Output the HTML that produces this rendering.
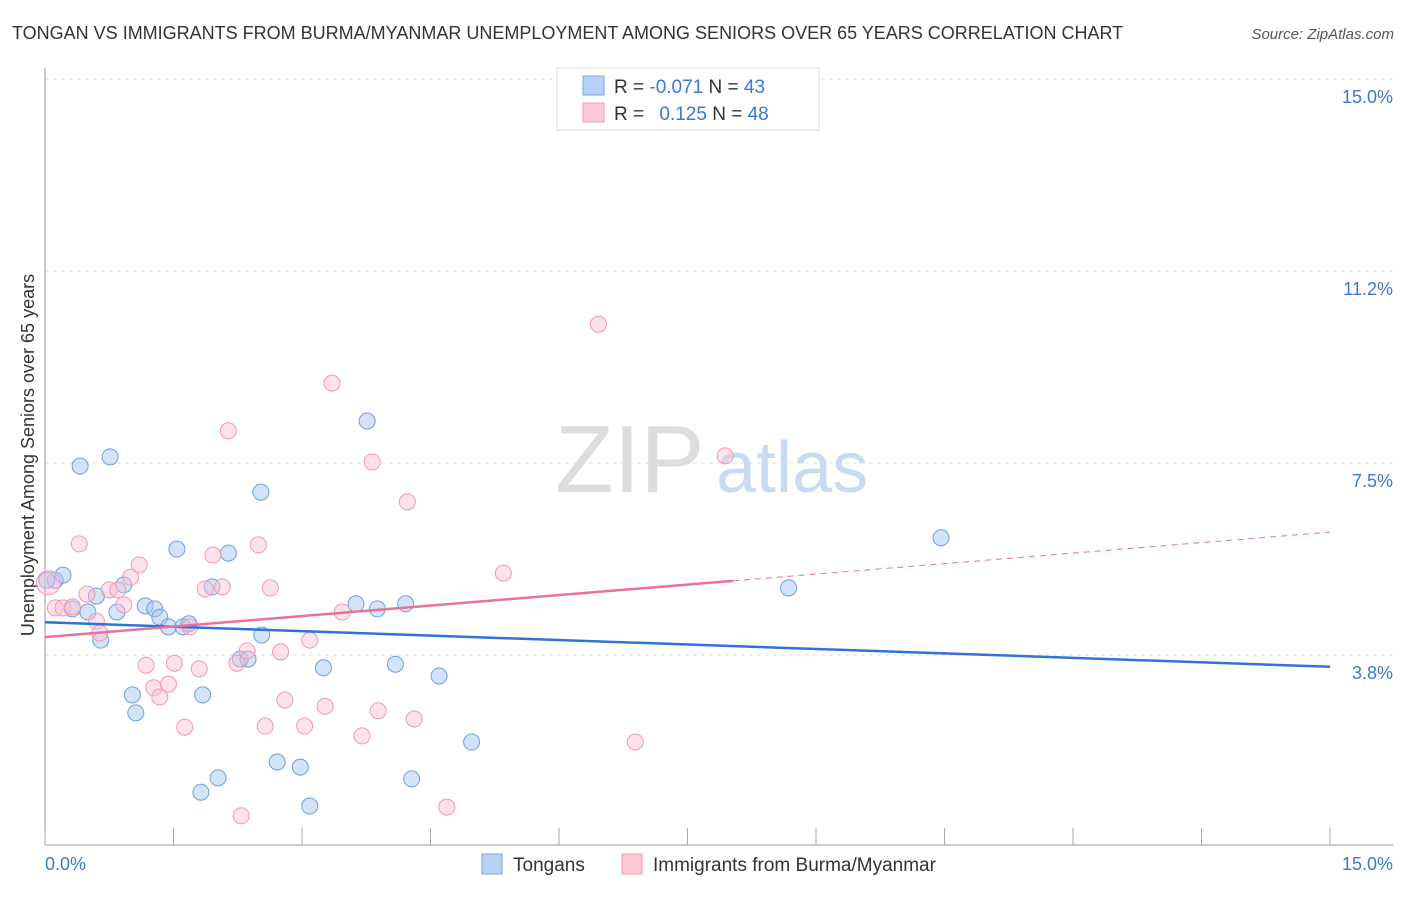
<!DOCTYPE html>
<html><head><meta charset="utf-8"><style>
body{margin:0;background:#fff;font-family:"Liberation Sans",sans-serif;}
svg text{font-family:"Liberation Sans",sans-serif;}
</style></head><body>
<svg width="1406" height="892" xmlns="http://www.w3.org/2000/svg">
<text x="12" y="39" font-size="18" fill="#333">TONGAN VS IMMIGRANTS FROM BURMA/MYANMAR UNEMPLOYMENT AMONG SENIORS OVER 65 YEARS CORRELATION CHART</text>
<text x="1394" y="39" font-size="15" fill="#555" font-style="italic" text-anchor="end">Source: ZipAtlas.com</text>
<g id="grid"></g>
<g id="ticks"></g>
<text x="555" y="492" font-size="96" fill="#ddd" font-family="Liberation Serif">ZIP</text>
<text x="716" y="492" font-size="72" fill="#c9daf2">atlas</text>
<line x1="45" y1="68" x2="45" y2="845" stroke="#999"/>
<line x1="45" y1="845" x2="1393" y2="845" stroke="#999"/>
<g id="xt"></g>
<text x="34" y="455" font-size="18" fill="#333" text-anchor="middle" transform="rotate(-90 34 455)">Unemployment Among Seniors over 65 years</text>
<text x="45" y="870" font-size="18" fill="#3a78d4">0.0%</text>
<text x="1393" y="870" font-size="18" fill="#3a78d4" text-anchor="end">15.0%</text>
<g id="pts"></g>
<g id="lines"></g>
<g>
<rect x="557" y="68" width="262" height="62" fill="#fff" stroke="#ddd"/>
<rect x="583" y="76" width="21" height="19" fill="#b8d2f5" stroke="#7aa6e6"/>
<rect x="583" y="103" width="21" height="19" fill="#fccbd8" stroke="#ef9db5"/>
<text x="614" y="93" font-size="19" fill="#333">R = <tspan fill="#3a78d4">-0.071</tspan>   N = <tspan fill="#3a78d4">43</tspan></text>
<text x="614" y="120" font-size="19" fill="#333">R = <tspan fill="#3a78d4" dx="10">0.125</tspan>   N = <tspan fill="#3a78d4">48</tspan></text>
</g>
<g>
<rect x="482" y="854" width="20" height="20" fill="#b8d2f5" stroke="#7aa6e6"/>
<text x="513" y="871" font-size="19" fill="#333">Tongans</text>
<rect x="622" y="854" width="20" height="20" fill="#fccbd8" stroke="#ef9db5"/>
<text x="653" y="871" font-size="19" fill="#333">Immigrants from Burma/Myanmar</text>
</g>
</svg>
<script>
const yTicks=[15.0,11.25,7.5,3.75];
const yTickLabels=["15.0%","11.2%","7.5%","3.8%"];
const xTicks=[0,1.5,3,4.5,6,7.5,9,10.5,12,13.5,15];
const tongX=[.12,.21,.32,.41,.50,.60,.65,.76,.84,.92,1.02,1.06,1.17,1.28,1.34,1.44,1.54,1.61,1.68,1.82,1.84,1.95,2.02,2.14,2.28,2.37,2.52,2.53,2.71,2.98,3.09,3.25,3.63,3.76,3.88,4.09,4.21,4.28,4.60,4.98,8.68,10.46,.02];
const tongY=[5.21,5.31,4.65,7.44,4.59,4.90,4.04,7.62,4.59,5.12,2.97,2.62,4.71,4.65,4.49,4.30,5.82,4.30,4.36,1.07,2.97,5.08,1.35,5.74,3.67,3.67,6.93,4.14,1.66,1.56,0.80,3.50,4.75,8.32,4.65,3.57,4.75,1.33,3.34,2.05,5.06,6.04,5.21];
const burX=[.04,.12,.21,.32,.40,.49,.60,.64,.75,.85,.92,1.00,1.10,1.18,1.27,1.34,1.44,1.51,1.63,1.80,1.87,1.96,2.07,2.14,2.24,2.29,2.36,2.49,2.57,2.63,2.75,2.80,3.03,3.09,3.27,3.35,3.47,3.70,3.82,3.89,4.23,4.31,4.69,5.35,6.46,6.89,7.94,1.69];
const burY=[5.16,4.67,4.67,4.69,5.92,4.94,4.41,4.18,5.02,5.02,4.73,5.27,5.51,3.55,3.11,2.93,3.18,3.59,2.34,3.48,5.04,5.70,5.08,8.13,3.59,0.61,3.83,5.90,2.36,5.06,3.81,2.87,2.36,4.04,2.75,9.06,4.59,2.17,7.52,2.66,6.74,2.50,0.78,5.35,10.21,2.05,7.64,4.30];
const tongTrend=[4.39,3.52];
const burTrend=[4.10,6.15];
const burSolidEnd=8.03;
const NS="http://www.w3.org/2000/svg";
const X=v=>45+v*(1285/15);
const Y=v=>79+(15-v)*51.2;
function mk(t,a,p){const e=document.createElementNS(NS,t);for(const k in a)e.setAttribute(k,a[k]);document.getElementById(p).appendChild(e);return e;}
yTicks.forEach((t,i)=>{
 const l=mk('line',{x1:45,x2:1393,y1:Y(t),y2:Y(t),stroke:'#ddd','stroke-dasharray':'4,4'},'grid');
 
 
 const tx=mk('text',{x:1393,y:Y(t)+24,'font-size':18,fill:'#3a78d4','text-anchor':'end'},'ticks');
 tx.textContent=yTickLabels[i];
 
 
});
xTicks.forEach(t=>{
 const l=mk('line',{x1:X(t),x2:X(t),y1:828,y2:845,stroke:'#aaa'},'xt');
 
 
});
tongX.forEach((x,i)=>{
 const c=mk('circle',{cx:X(x),cy:Y(tongY[i]),r:8,fill:'rgba(160,195,240,0.45)',stroke:'#6f9fe0','stroke-width':1},'pts');
 
 
});
burX.forEach((x,i)=>{
 const c=mk('circle',{cx:X(x),cy:Y(burY[i]),r:i===0?12:8,fill:'rgba(250,190,210,0.45)',stroke:'#ee9ab4','stroke-width':1},'pts');
 
 
});
const bt=v=>burTrend[0]+(burTrend[1]-burTrend[0])*v/15;
let l1=mk('line',{x1:X(0),y1:Y(tongTrend[0]),x2:X(15),y2:Y(tongTrend[1]),stroke:'#2f73d6','stroke-width':2.5},'lines');


let l2=mk('line',{x1:X(0),y1:Y(bt(0)),x2:X(burSolidEnd),y2:Y(bt(burSolidEnd)),stroke:'#e8729a','stroke-width':2.5},'lines');


let l3=mk('line',{x1:X(burSolidEnd),y1:Y(bt(burSolidEnd)),x2:X(15),y2:Y(bt(15)),stroke:'#e8729a','stroke-width':1,'stroke-dasharray':'6,5'},'lines');


</script>
</body></html>
